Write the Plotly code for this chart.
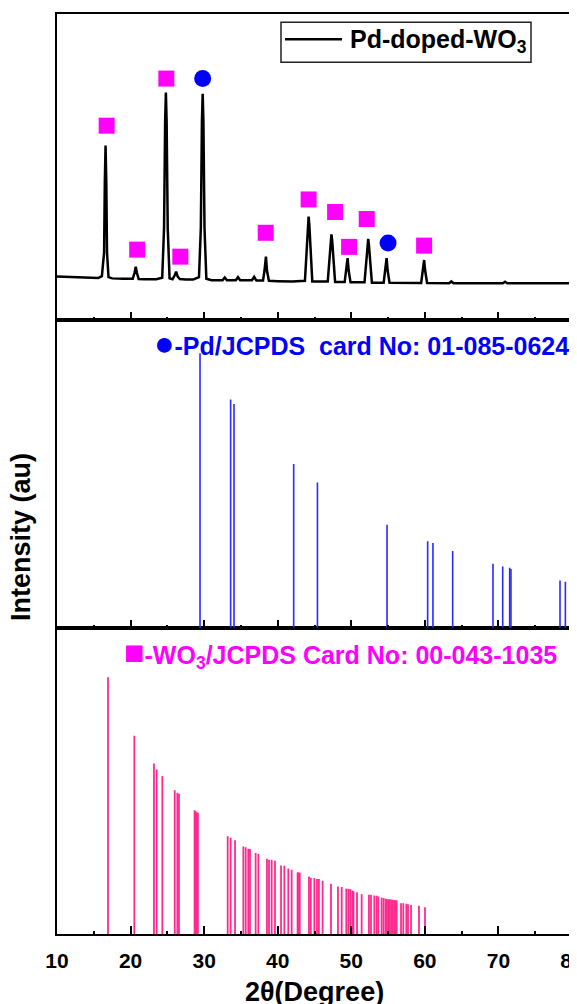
import plotly.graph_objects as go

# ---------------- data ----------------
# Measured XRD pattern of Pd-doped WO3 (traced vertices: 2theta, intensity a.u.)
xrd_2theta = [10.0, 12.0, 14.0, 15.0, 15.6, 16.1, 16.4, 16.5, 16.6, 16.7, 16.8, 17.0, 17.5, 19.0,
              20.3, 20.55, 20.7, 20.85, 21.1, 22.0, 23.5, 24.3, 24.55, 24.7, 24.8, 24.9, 25.05, 25.3,
              25.7, 26.0, 26.2, 26.4, 26.7, 27.5, 28.5, 29.3, 29.55, 29.7, 29.8, 29.9, 30.05, 30.3,
              31.0, 32.5, 32.8, 33.1, 34.3, 34.6, 34.9, 36.5, 36.8, 37.1, 38.0, 38.2, 38.4, 38.55,
              38.8, 40.0, 42.0, 43.7, 43.95, 44.1, 44.2, 44.3, 44.45, 44.7, 46.8, 47.05, 47.2, 47.3,
              47.4, 47.55, 47.8, 49.1, 49.3, 49.5, 49.65, 49.9, 51.8, 52.05, 52.2, 52.3, 52.4, 52.55,
              52.8, 54.4, 54.6, 54.8, 54.95, 55.2, 59.5, 59.7, 59.9, 60.05, 60.3, 63.3, 63.6, 63.9,
              70.6, 70.9, 71.2, 80.0]
xrd_intensity = [14.2, 14.1, 14.0, 13.9, 13.7, 14.3, 22.0, 45.0, 57.0, 45.0, 22.0, 14.0, 13.6, 13.5,
                 13.5, 15.5, 17.4, 15.5, 13.4, 13.3, 13.3, 13.8, 30.0, 65.0, 74.3, 65.0, 30.0, 13.6,
                 13.3, 14.6, 15.8, 14.2, 13.4, 13.2, 13.2, 14.0, 30.0, 65.0, 73.9, 65.0, 30.0, 13.5,
                 13.0, 13.0, 13.9, 13.0, 13.0, 14.0, 13.0, 13.0, 14.1, 12.9, 12.9, 16.0, 20.7, 16.0,
                 12.8, 12.7, 12.6, 12.8, 22.0, 31.0, 33.8, 31.0, 22.0, 12.6, 12.6, 20.0, 26.0, 28.0,
                 26.0, 20.0, 12.4, 12.4, 16.0, 20.2, 16.0, 12.3, 12.3, 19.0, 24.5, 26.5, 24.5, 19.0,
                 12.2, 12.2, 16.0, 20.2, 16.0, 12.2, 12.1, 16.0, 19.6, 16.0, 12.1, 12.0, 12.6, 12.0,
                 12.0, 12.5, 12.0, 12.0]

# Phase markers above the measured peaks
wo3_marker_2theta = [16.75, 20.9, 24.86, 26.76, 38.37, 44.2, 47.8, 49.7, 52.1, 59.9]
wo3_marker_intensity = [63.5, 23.0, 78.9, 20.7, 28.5, 39.4, 35.3, 23.9, 33.0, 24.3]
pd_marker_2theta = [29.8, 55.0]
pd_marker_intensity = [78.9, 25.2]

# Pd reference pattern (JCPDS 01-085-0624)
pd_ref_2theta = [29.44, 33.6, 34.06, 42.17, 45.4, 54.86, 60.38, 61.1, 63.78, 69.26, 70.58, 71.53,
                 71.7, 78.37, 79.1]
pd_ref_intensity = [100, 83.1, 81.5, 59.6, 52.9, 37.5, 31.5, 30.9, 27.9, 23.3, 22.3, 21.8, 21.4,
                    17.2, 16.7]

# WO3 reference pattern (JCPDS 00-043-1035)
wo3_ref_2theta = [16.93, 20.51, 23.18, 23.55, 24.32, 26.0, 26.36, 26.58, 28.7, 28.85, 29.0, 29.15,
                  33.2, 33.6, 34.2, 35.33, 35.65, 36.0, 36.23, 37.0, 37.37, 38.54, 38.82, 39.18,
                  39.63, 40.45, 40.9, 41.44, 41.9, 42.7, 42.85, 43.0, 44.25, 44.5, 44.98, 45.34,
                  45.6, 46.1, 47.24, 48.19, 48.7, 49.32, 49.6, 49.87, 50.14, 50.3, 50.78, 51.41,
                  52.4, 52.68, 53.13, 53.45, 53.67, 54.13, 54.4, 54.68, 54.85, 55.05, 55.25, 55.45,
                  55.65, 55.85, 56.0, 56.17, 56.76, 57.07, 57.48, 57.71, 58.12, 59.2, 60.02]
wo3_ref_intensity = [100, 77.2, 66.4, 64.1, 61.5, 56.0, 55.0, 54.6, 48.2, 47.8, 47.4, 47.2,
                     38.1, 37.5, 36.5, 34.1, 33.8, 33.2, 33.1, 31.6, 31.2, 29.3, 28.9, 28.9,
                     28.5, 26.7, 26.6, 25.5, 25.0, 24.0, 24.0, 23.8, 22.4, 21.9, 21.8, 21.4,
                     21.4, 20.7, 19.6, 18.5, 18.3, 17.7, 17.6, 17.5, 16.9, 16.7, 16.3, 15.5,
                     15.3, 15.3, 15.0, 14.9, 14.6, 14.2, 14.0, 13.7, 13.6, 13.5, 13.5, 13.4,
                     13.3, 13.2, 13.2, 13.1, 12.0, 12.0, 11.8, 11.6, 11.3, 11.0, 10.4]

x_ticks = [10, 20, 30, 40, 50, 60, 70, 80]
x_minor_ticks = [15, 25, 35, 45, 55, 65, 75]

legend_label = "Pd-doped-WO<sub>3</sub>"
pd_label = ("<span style='font-size:34px'>\u25cf</span>"
            "-Pd/JCPDS\u00a0 card No: 01-085-0624")
wo3_label = ("<span style='font-size:34px'>\u25a0</span>"
             "-WO<sub>3</sub>/JCPDS Card No: 00-043-1035")
x_title = "2\u03b8(Degree)"
y_title = "Intensity (au)"

# ---------------- styles ----------------
FONT = "Arial, Liberation Sans, sans-serif"
PINK_STICK = "#FF2A8E"
BLUE_STICK = "#2A2AFF"
MAGENTA = "#FF00FF"
BLUE = "#0000FF"

PAGE_OFF = 8                      # default body margin of the html page
W, H = 577 - PAGE_OFF, 1004 - PAGE_OFF
# plot area in page pixels
PL, PR, PT, PB = 57, 572, 14, 934
ML = PL - PAGE_OFF
MT = PT - PAGE_OFF
MR = W - (PR - PAGE_OFF)
MB = H - (PB - PAGE_OFF)


def px_x(px):
    return (px - PL) / (PR - PL)


def px_y(py):
    return (PB - py) / (PB - PT)


b1 = px_y(320)     # boundary top / middle
b2 = px_y(627.7)   # boundary middle / bottom


def sticks(xs, hs):
    sx, sy = [], []
    for x, h in zip(xs, hs):
        sx += [x, x, None]
        sy += [0, h, None]
    return sx, sy


fig = go.Figure()

# top panel: measured pattern
fig.add_trace(go.Scatter(x=xrd_2theta, y=xrd_intensity, mode="lines",
                         line=dict(color="black", width=2.5), xaxis="x3", yaxis="y3",
                         name="Pd-doped-WO3", showlegend=False))
fig.add_trace(go.Scatter(x=wo3_marker_2theta, y=wo3_marker_intensity, mode="markers",
                         marker=dict(symbol="square", size=16, color=MAGENTA),
                         xaxis="x3", yaxis="y3", showlegend=False))
fig.add_trace(go.Scatter(x=pd_marker_2theta, y=pd_marker_intensity, mode="markers",
                         marker=dict(symbol="circle", size=17, color=BLUE),
                         xaxis="x3", yaxis="y3", showlegend=False))

# middle panel: Pd reference
sx, sy = sticks(pd_ref_2theta, pd_ref_intensity)
fig.add_trace(go.Scatter(x=sx, y=sy, mode="lines", line=dict(color=BLUE_STICK, width=1.6),
                         xaxis="x2", yaxis="y2", showlegend=False))

# bottom panel: WO3 reference
sx, sy = sticks(wo3_ref_2theta, wo3_ref_intensity)
fig.add_trace(go.Scatter(x=sx, y=sy, mode="lines", line=dict(color=PINK_STICK, width=1.8),
                         xaxis="x", yaxis="y", showlegend=False))

xcommon = dict(range=[10, 80], tickmode="array", tickvals=x_ticks, ticks="inside", ticklen=8,
               tickwidth=2, tickcolor="black",
               minor=dict(tickmode="array", tickvals=x_minor_ticks, ticks="inside",
                          ticklen=3, tickwidth=2, tickcolor="black"),
               showline=True, linewidth=2, linecolor="black", mirror=True,
               showgrid=False, zeroline=False, automargin=False)
ycommon = dict(showticklabels=False, ticks="", showline=True, linewidth=2, linecolor="black",
               mirror=True, showgrid=False, zeroline=False, fixedrange=True, automargin=False)

fig.update_layout(
    width=W, height=H, autosize=False,
    margin=dict(l=ML, r=MR, t=MT, b=MB, pad=0, autoexpand=False),
    paper_bgcolor="white", plot_bgcolor="white",
    font=dict(family=FONT, color="black"),
    xaxis=dict(**xcommon, anchor="y", showticklabels=True, ticklabelstandoff=7,
               ticklabeloverflow="allow",
               tickfont=dict(family=FONT, size=21, weight="bold", color="black")),
    xaxis2=dict(**xcommon, anchor="y2", matches="x", showticklabels=False),
    xaxis3=dict(**xcommon, anchor="y3", matches="x", showticklabels=False),
    yaxis=dict(**ycommon, domain=[0, b2], range=[0, 119.3]),
    yaxis2=dict(**ycommon, domain=[b2, b1], range=[0, 112.1]),
    yaxis3=dict(**ycommon, domain=[b1, 1], range=[0, 100]),
    showlegend=False,
)

# custom legend box in top panel
fig.add_shape(type="rect", xref="paper", yref="paper", x0=px_x(281), x1=px_x(531),
              y0=px_y(62.3), y1=px_y(22.3), line=dict(color="#222222", width=1.5))
fig.add_shape(type="line", xref="paper", yref="paper", x0=px_x(285), x1=px_x(342),
              y0=px_y(39.3), y1=px_y(39.3), line=dict(color="black", width=2.5))
fig.add_annotation(xref="paper", yref="paper", x=px_x(348), y=px_y(40.5), xanchor="left",
                   yanchor="middle", text=legend_label, showarrow=False,
                   font=dict(family=FONT, size=25, weight="bold", color="black"))

# reference labels
fig.add_annotation(xref="paper", yref="paper", x=px_x(152), y=px_y(343.5), xanchor="left",
                   yanchor="middle", text=pd_label, showarrow=False,
                   font=dict(family=FONT, size=25, weight="bold", color=BLUE))
fig.add_annotation(xref="paper", yref="paper", x=px_x(122), y=px_y(653), xanchor="left",
                   yanchor="middle", text=wo3_label, showarrow=False,
                   font=dict(family=FONT, size=25, weight="bold", color=MAGENTA))

# axis titles
fig.add_annotation(xref="paper", yref="paper", x=0.5, y=px_y(992), xanchor="center",
                   yanchor="middle", text=x_title, showarrow=False,
                   font=dict(family=FONT, size=27, weight="bold", color="black"))
fig.add_annotation(xref="paper", yref="paper", x=px_x(21), y=px_y(537), xanchor="center",
                   yanchor="middle", text=y_title, showarrow=False, textangle=-90,
                   font=dict(family=FONT, size=27, weight="bold", color="black"))

fig.write_html("out.html")
